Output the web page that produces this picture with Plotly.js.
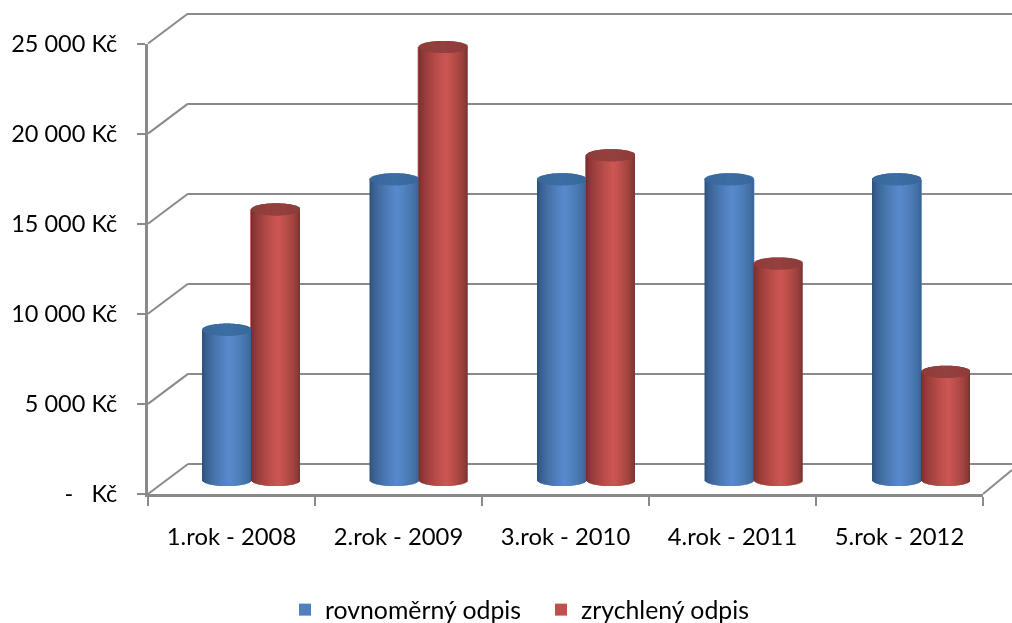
<!DOCTYPE html>
<html>
<head>
<meta charset="utf-8">
<script src="https://cdn.plot.ly/plotly-3.0.1.min.js"></script>
<style>html,body{margin:0;padding:0;background:#fff}#plot{width:1012px;height:623px;filter:blur(0.45px)}</style>
</head>
<body>
<div id="plot"></div>
<script>
const categories = ['1.rok - 2008','2.rok - 2009','3.rok - 2010','4.rok - 2011','5.rok - 2012'];
const rovnomerny = [8400,16800,16800,16800,16800];
const zrychleny = [15120,24192,18144,12096,6048];
const seriesNames = ['rovnoměrný odpis','zrychlený odpis'];
const tickValues = [0,5000,10000,15000,20000,25000];
const tickLabels = ['-   Kč','5 000 Kč','10 000 Kč','15 000 Kč','20 000 Kč','25 000 Kč'];

const W = 1012, H = 623;
const GRID = '#8a8a8a';
const FONT = 'Lato, "Open Sans", sans-serif';
const yMax = 25000;
const pad = 500;          // axes run a little past the value range so end ellipses and edge gridlines show
const capHalf = 340;      // half height of a cylinder's end ellipse, in value units
const cylWidth = 0.2925;  // cylinder diameter, in category units
const SLICES = 49;

const styles = [
  {legend:'#4f81bd', edgeL:[42,76,116], mid:[88,138,204], edgeR:[56,96,142], cap:[60,110,163]},
  {legend:'#c0504d', edgeL:[112,42,40], mid:[205,86,83], edgeR:[116,48,46], cap:[148,64,62]}
];
function mix(a,b,t){return a.map((c,i)=>Math.round(c+(b[i]-c)*t));}
function shade(st,u){
  const peak = 0.12;
  const t = u<peak ? (u+1)/(1+peak) : (1-u)/(1-peak);
  const s = Math.pow(Math.max(0,t),0.6);
  const c = mix(u<peak?st.edgeL:st.edgeR, st.mid, s);
  return 'rgb('+c.join(',')+')';
}
function cylinders(values, side, st){
  const x=[],w=[],base=[],h=[],col=[];
  const step = cylWidth/SLICES;
  values.forEach((v,i)=>{
    const left = i + side*cylWidth/2 - cylWidth/2;
    const bodies=[],caps=[];
    for(let k=0;k<SLICES;k++){
      const u = -1 + (2*k+1)/SLICES;
      const s = Math.sqrt(1-u*u);
      // each slice overlaps the next one so that no pixel column is left empty
      const sw = k<SLICES-1 ? step*2 : step;
      const cx = left + k*step + sw/2;
      bodies.push([cx,sw,-capHalf*s,v+capHalf*s,shade(st,u)]);
      const cc = mix(st.cap,st.edgeL,Math.abs(u)*0.18);
      caps.push([cx,sw,v-capHalf*s,2*capHalf*s,'rgb('+cc.join(',')+')']);
    }
    bodies.concat(caps).forEach(p=>{x.push(p[0]);w.push(p[1]);base.push(p[2]);h.push(p[3]);col.push(p[4]);});
  });
  return {type:'bar',x:x,y:h,base:base,width:w,marker:{color:col,line:{width:0},opacity:1},
    xaxis:'x2',yaxis:'y2',showlegend:false,hoverinfo:'skip'};
}
const idx = categories.map((_,i)=>i);
const traces = [
  {type:'scatter',mode:'none',x:categories,y:rovnomerny,xaxis:'x3',yaxis:'y3',showlegend:false,hoverinfo:'skip'},
  {type:'scatter',mode:'none',x:[0,1],y:[0,1],xaxis:'x',yaxis:'y',showlegend:false,hoverinfo:'skip'},
  {type:'bar',name:seriesNames[0],x:idx,y:rovnomerny,width:0.01,marker:{color:styles[0].legend,opacity:1},xaxis:'x2',yaxis:'y2'},
  {type:'bar',name:seriesNames[1],x:idx,y:zrychleny,width:0.01,marker:{color:styles[1].legend,opacity:1},xaxis:'x2',yaxis:'y2'},
  cylinders(rovnomerny,-1,styles[0]),
  cylinders(zrychleny,1,styles[1])
];

// wall and floor edges linking the front plane to the back wall
const frontPx = 450.5/yMax, backPx = 450.5/yMax, midPx = 447.5/yMax;
const frontY = v => 494 - v*frontPx;
const backY  = v => 464 - v*backPx;
const seg = (x0,y0,x1,y1,w)=>({type:'line',xref:'paper',yref:'paper',layer:'below',
  x0:x0/W,y0:1-y0/H,x1:x1/W,y1:1-y1/H,line:{color:GRID,width:w||2}});
const shapes = tickValues.map(v=>seg(148,frontY(v),188,backY(v)));
shapes.push(seg(983,494,1012,470));

const layout = {
  width:W,height:H,margin:{l:0,r:0,t:0,b:0,autoexpand:false},paper_bgcolor:'#fff',plot_bgcolor:'rgba(0,0,0,0)',
  barmode:'overlay',showlegend:true,shapes:shapes,
  font:{family:FONT,size:23,color:'#000'},
  // back wall
  xaxis:{domain:[188/W,1],range:[0,1],visible:false,anchor:'y',fixedrange:true},
  yaxis:{domain:[(H-backY(-pad))/H,(H-backY(yMax+pad))/H],range:[-pad,yMax+pad],anchor:'x',tickmode:'array',tickvals:tickValues,showgrid:true,
    gridcolor:GRID,gridwidth:2,showticklabels:false,ticks:'',showline:false,zeroline:false,fixedrange:true},
  // plane through the cylinders' axes
  xaxis2:{domain:[167.25/W,1004.75/W],range:[-0.5,4.5],visible:false,anchor:'y2',fixedrange:true},
  yaxis2:{domain:[(H-480-pad*midPx)/H,(H-480+(yMax+pad)*midPx)/H],range:[-pad,yMax+pad],visible:false,anchor:'x2',fixedrange:true},
  // front plane with the labelled axes
  xaxis3:{domain:[148/W,983/W],type:'category',categoryorder:'array',categoryarray:categories,range:[-0.5,4.5],
    anchor:'y3',tickson:'boundaries',ticks:'outside',ticklen:9,tickwidth:2,tickcolor:GRID,
    showline:true,linecolor:GRID,linewidth:3,showgrid:false,zeroline:false,ticklabelstandoff:19,
    tickfont:{family:FONT,size:23.8,color:'#000'},fixedrange:true},
  yaxis3:{domain:[(H-494)/H,(H-43.5)/H],range:[0,yMax],anchor:'x3',tickmode:'array',tickvals:tickValues,
    ticktext:tickLabels,ticks:'outside',ticklen:8,tickwidth:2,tickcolor:GRID,showline:true,linecolor:GRID,
    linewidth:3,showgrid:false,zeroline:false,ticklabelstandoff:15,
    tickfont:{family:FONT,size:23.5,color:'#000'},fixedrange:true},
  legend:{orientation:'h',x:285/W,y:1-610/H,xanchor:'left',yanchor:'middle',
    font:{family:FONT,size:24.8,color:'#000'},entrywidth:211,entrywidthmode:'pixels',traceorder:'normal',
    bgcolor:'rgba(0,0,0,0)',itemclick:false,itemdoubleclick:false}
};
Plotly.newPlot('plot',traces,layout,{displayModeBar:false,staticPlot:true});
</script>
</body>
</html>
